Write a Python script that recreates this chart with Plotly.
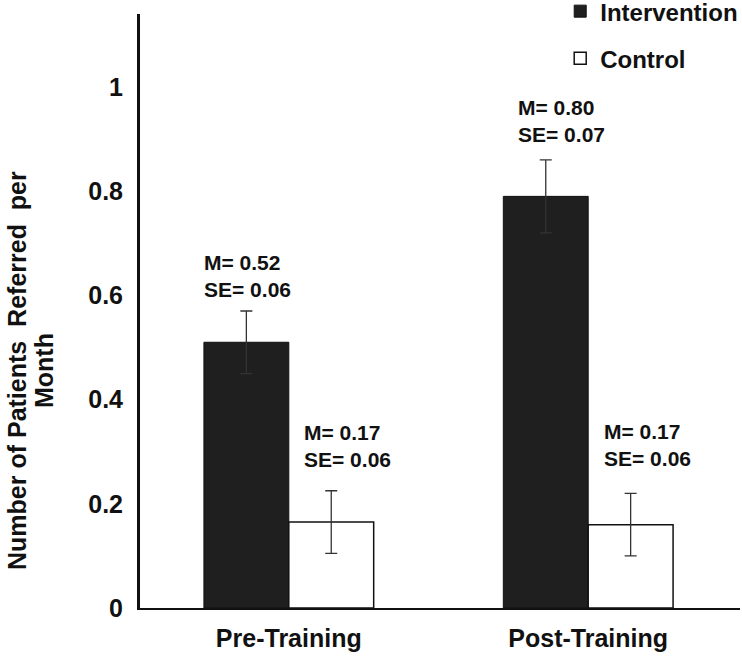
import plotly.graph_objects as go

# Data
phases = ['Pre-Training', 'Post-Training']
intervention_mean = [0.51, 0.79]
intervention_se = [0.06, 0.07]
control_mean = [0.165, 0.16]
control_se = [0.06, 0.06]
labels_intervention = ['M= 0.52<br>SE= 0.06', 'M= 0.80<br>SE= 0.07']
labels_control = ['M= 0.17<br>SE= 0.06', 'M= 0.17<br>SE= 0.06']
y_ticks = [0, 0.2, 0.4, 0.6, 0.8, 1]
y_ticktext = ['0', '0.2', '0.4', '0.6', '0.8', '1']

FONT = 'Liberation Sans, Arial, sans-serif'
INK = '#111111'

fig = go.Figure()

fig.add_trace(go.Bar(
    x=phases, y=intervention_mean, name='Intervention',
    legendgroup='a',
    marker=dict(color='#1f1f1f', line=dict(color=INK, width=1)),
    error_y=dict(type='data', array=intervention_se, color='#333333',
                 thickness=1.3, width=6),
))
fig.add_trace(go.Bar(
    x=phases, y=control_mean, name='Control',
    legendgroup='b',
    marker=dict(color='white', line=dict(color=INK, width=1.5)),
    error_y=dict(type='data', array=control_se, color='#333333',
                 thickness=1.3, width=6),
))

# M / SE labels above each bar
half = 0.5 * (1 - 0.433) / 2
for i in range(len(phases)):
    fig.add_annotation(
        x=i - half, y=intervention_mean[i] + intervention_se[i],
        text=labels_intervention[i], showarrow=False,
        xanchor='left', yanchor='bottom', align='left',
        xshift=-44 if i == 0 else -30, yshift=8 if i == 0 else 12,
        font=dict(family=FONT, size=21, color=INK, weight='bold'),
    )
    fig.add_annotation(
        x=i + half, y=control_mean[i] + control_se[i],
        text=labels_control[i], showarrow=False,
        xanchor='left', yanchor='bottom', align='left',
        xshift=-29, yshift=18 if i == 0 else 21,
        font=dict(family=FONT, size=21, color=INK, weight='bold'),
    )

# y-axis title, one annotation per line (tight line spacing, sits below centre)
title_lines = ['Number of Patients  Referred  per', 'Month']
for line, xpos in zip(title_lines, [-0.205, -0.160]):
    fig.add_annotation(
        xref='paper', yref='paper', x=xpos, y=0.399,
        text=line, textangle=-90, showarrow=False,
        xanchor='center', yanchor='middle',
        font=dict(family=FONT, size=25, color=INK, weight='bold'),
    )

fig.update_layout(
    width=742, height=656,
    margin=dict(l=140, r=2, t=14, b=48, autoexpand=False),
    plot_bgcolor='white', paper_bgcolor='white',
    barmode='group', bargap=0.433, bargroupgap=0,
    font=dict(family=FONT, color=INK),
    showlegend=True,
    legend=dict(
        x=0.755, xanchor='left', xref='container',
        y=1.042, yanchor='top', yref='paper',
        traceorder='grouped', tracegroupgap=13,
        font=dict(family=FONT, size=24, color=INK, weight='bold'),
        bgcolor='rgba(0,0,0,0)',
    ),
    xaxis=dict(
        range=[-0.497, 1.507],
        showline=True, linecolor=INK, linewidth=2,
        ticks='', showgrid=False,
        ticklabelstandoff=7,
        tickfont=dict(family=FONT, size=25, color=INK, weight='bold'),
    ),
    yaxis=dict(
        range=[0, 1.14],
        tickvals=y_ticks, ticktext=y_ticktext,
        showline=True, linecolor=INK, linewidth=3,
        ticks='', showgrid=False, zeroline=False,
        ticklabelstandoff=9,
        tickfont=dict(family=FONT, size=25, color=INK, weight='bold'),
    ),
)

# drop the browser's default 8px body margin so the figure sits at the page corner
fig.write_html('out.html', config={'displayModeBar': False},
               post_script="document.body.style.margin='0';")
